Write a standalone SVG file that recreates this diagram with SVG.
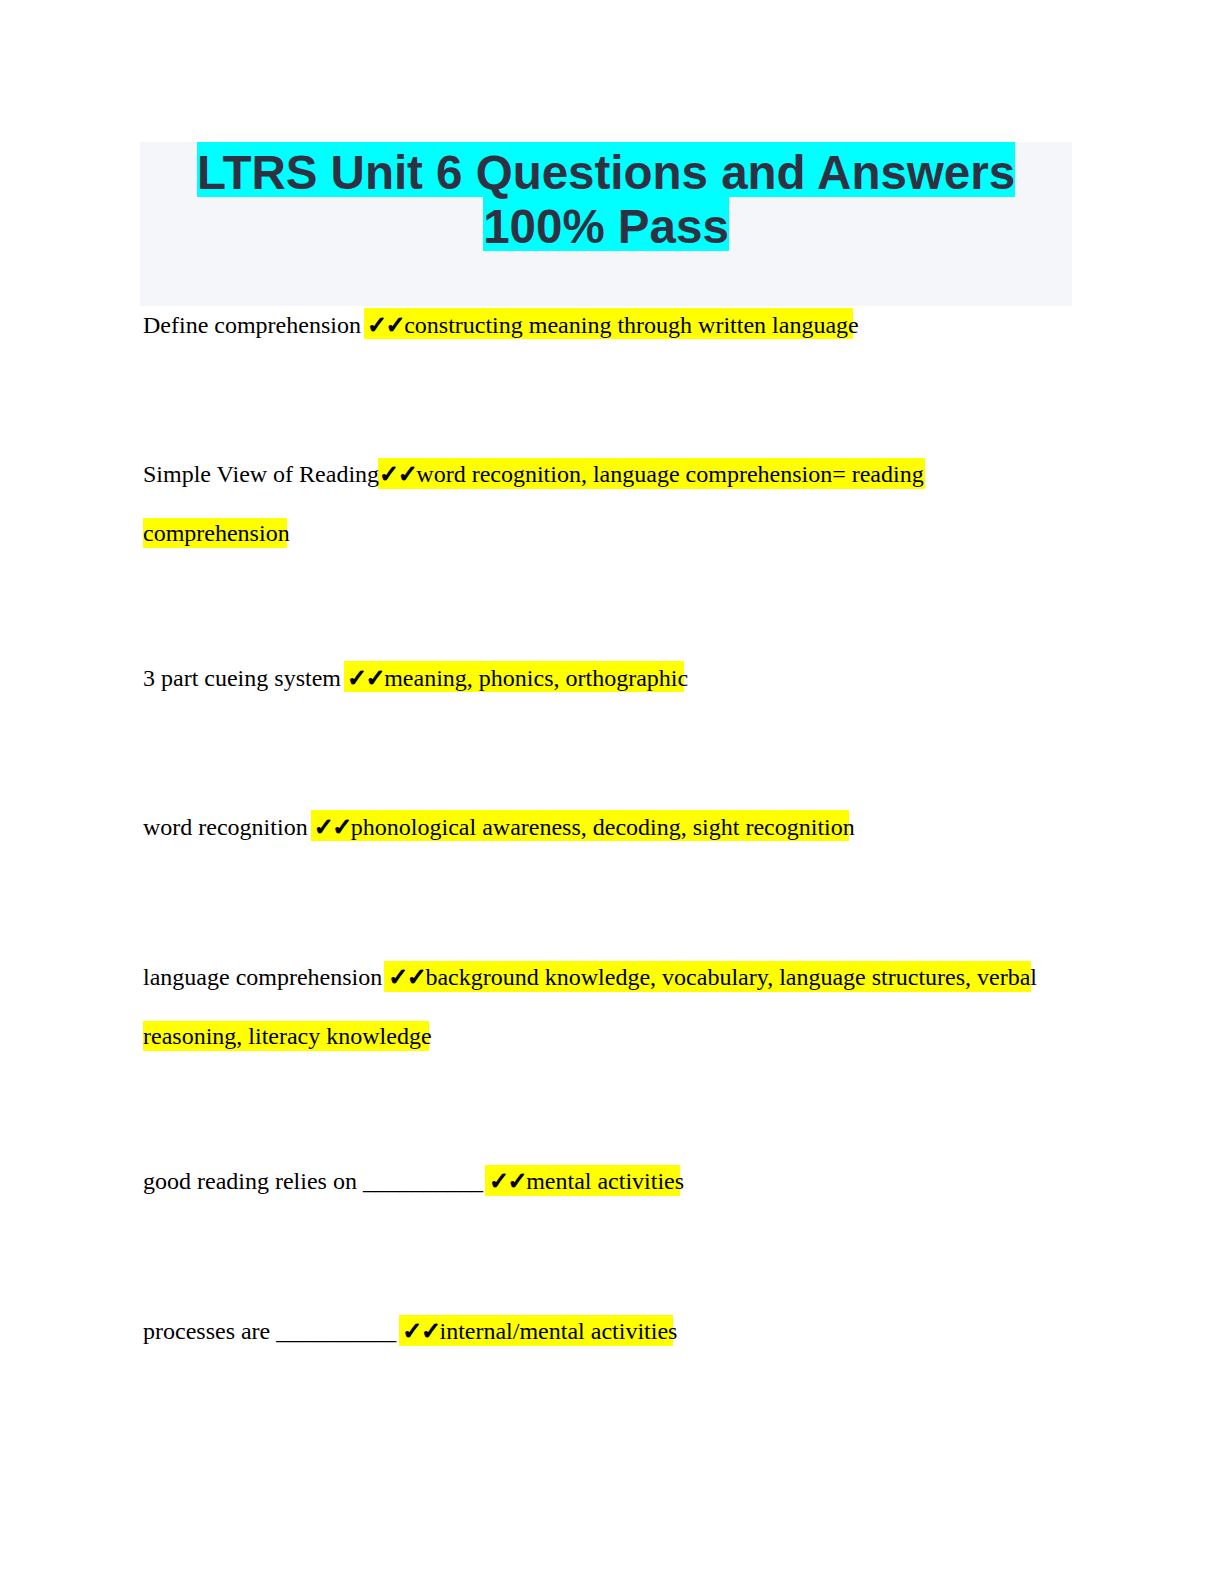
<svg xmlns="http://www.w3.org/2000/svg" width="1224" height="1584" viewBox="0 0 1224 1584">
<style>
.bg{fill:#ffffff}
.head{fill:#f5f6fa}
.cy{fill:#00ffff}
.hl{fill:#ffff00}
.title{font-family:"Liberation Sans",Arial,sans-serif;font-weight:bold;font-size:47.5px;fill:#2d3142;text-anchor:middle}
.body{font-family:"Liberation Serif","Times New Roman",serif;font-size:24px;fill:#000000}
.ck{font-family:"DejaVu Sans",sans-serif;font-weight:bold;font-size:24px;stroke:#000000;stroke-width:1.2px;letter-spacing:-1.5px}
</style>
<rect class="bg" x="0" y="0" width="1224" height="1584"/>
<g id="header">
<rect class="head" x="140" y="142" width="932" height="164"/>
<rect class="cy" x="197" y="142" width="818" height="55"/>
<rect class="cy" x="483" y="197" width="246" height="54"/>
<text class="title" x="606" y="189">LTRS Unit 6 Questions and Answers</text>
<text class="title" x="606" y="243">100% Pass</text>
</g>
<g id="q1">
<rect class="hl" x="364" y="308" width="489" height="31"/>
<text class="body" x="143" y="333">Define comprehension <tspan class="ck">✓✓</tspan>constructing meaning through written language</text>
</g>
<g id="q2">
<rect class="hl" x="378" y="458" width="547" height="31"/>
<rect class="hl" x="143" y="518" width="144" height="30"/>
<text class="body" x="143" y="482">Simple View of Reading<tspan class="ck">✓✓</tspan>word recognition, language comprehension= reading</text>
<text class="body" x="143" y="541">comprehension</text>
</g>
<g id="q3">
<rect class="hl" x="344" y="661" width="340" height="31"/>
<text class="body" x="143" y="686">3 part cueing system <tspan class="ck">✓✓</tspan>meaning, phonics, orthographic</text>
</g>
<g id="q4">
<rect class="hl" x="311" y="810" width="538" height="31"/>
<text class="body" x="143" y="835">word recognition <tspan class="ck">✓✓</tspan>phonological awareness, decoding, sight recognition</text>
</g>
<g id="q5">
<rect class="hl" x="384" y="961" width="647" height="31"/>
<rect class="hl" x="143" y="1021" width="286" height="30"/>
<text class="body" x="143" y="985">language comprehension <tspan class="ck">✓✓</tspan>background knowledge, vocabulary, language structures, verbal</text>
<text class="body" x="143" y="1044">reasoning, literacy knowledge</text>
</g>
<g id="q6">
<rect class="hl" x="485" y="1165" width="195" height="31"/>
<text class="body" x="143" y="1189">good reading relies on __________ <tspan class="ck">✓✓</tspan>mental activities</text>
</g>
<g id="q7">
<rect class="hl" x="399" y="1315" width="274" height="31"/>
<text class="body" x="143" y="1339">processes are __________ <tspan class="ck">✓✓</tspan>internal/mental activities</text>
</g>
</svg>
